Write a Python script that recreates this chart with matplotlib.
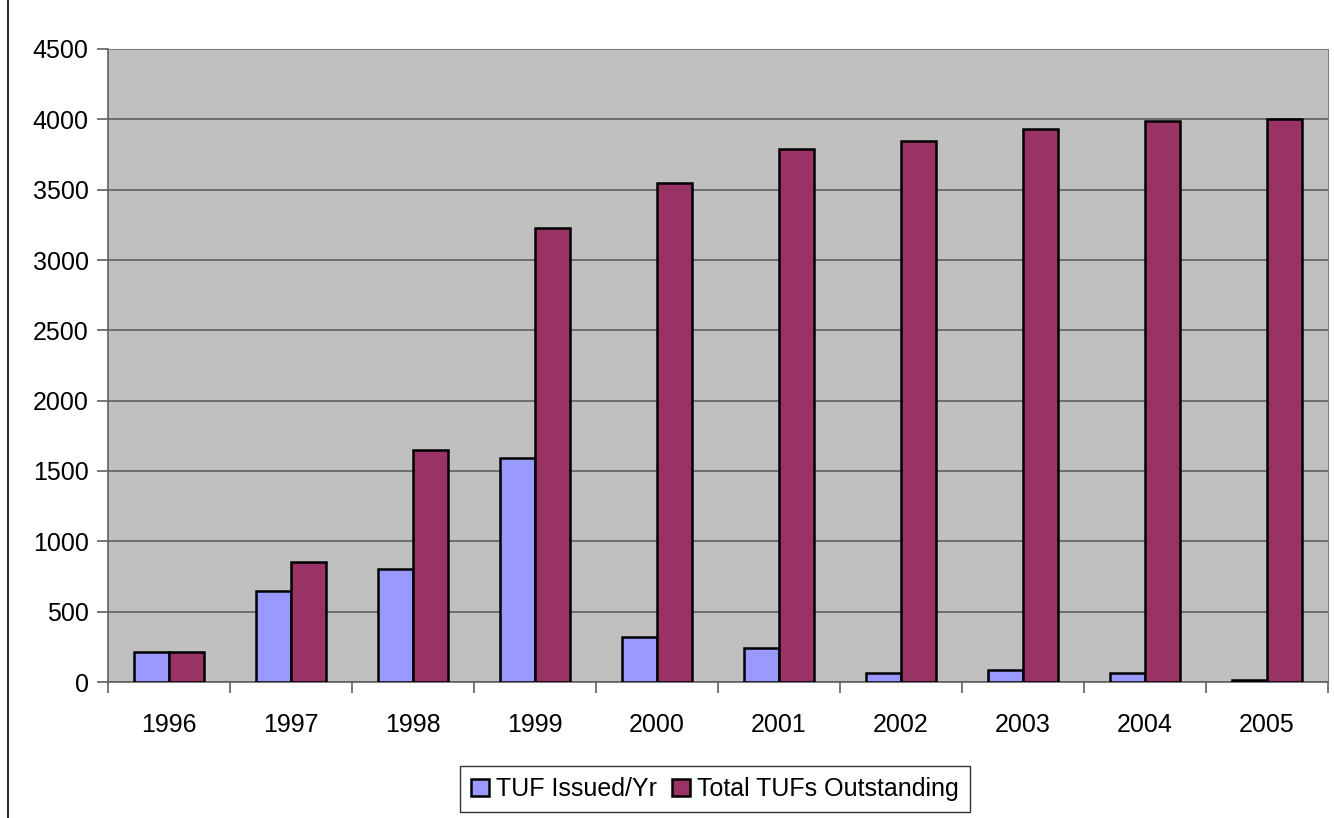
import numpy as np
import matplotlib.pyplot as plt
from matplotlib.patches import Rectangle

# Data
years = ['1996', '1997', '1998', '1999', '2000', '2001', '2002', '2003', '2004', '2005']
issued = [214, 645, 800, 1595, 320, 245, 62, 88, 62, 15]
total = [214, 855, 1650, 3230, 3545, 3790, 3846, 3934, 3990, 4005]

plt.rcParams['font.family'] = ['Liberation Sans', 'DejaVu Sans']

fig = plt.figure(figsize=(13.34, 8.18), dpi=100)
ax = fig.add_axes([108 / 1334, 1 - 682 / 818, 1220 / 1334, 633 / 818])

# outer chart frame (only left edge visible in the picture)
fig.patches.append(Rectangle((8 / 1334, -0.1), 1.2, 1.2, transform=fig.transFigure,
                             fill=False, edgecolor='black', linewidth=1.2))

x = np.arange(len(years))
w = 1 / 3.5
ax.bar(x - w / 2, issued, w, color='#9999FF', edgecolor='black', linewidth=1.8,
       label='TUF Issued/Yr', zorder=3)
ax.bar(x + w / 2, total, w, color='#993366', edgecolor='black', linewidth=1.8,
       label='Total TUFs Outstanding', zorder=3)

ax.set_facecolor('#C0C0C0')
ax.set_xlim(-0.5, len(years) - 0.5)
ax.set_ylim(0, 4500)
ax.set_yticks(np.arange(0, 4501, 500))
ax.yaxis.grid(True, color='#606060', linewidth=1.2, zorder=0)
ax.set_axisbelow(True)

ax.set_xticks(x)
ax.set_xticklabels(years)
ax.set_xticks(np.arange(-0.5, len(years)), minor=True)
ax.tick_params(axis='x', which='major', length=0, labelsize=18, pad=22)
ax.tick_params(axis='x', which='minor', length=8, width=1.2, color='#606060')
ax.tick_params(axis='y', length=8, width=1.2, color='#606060', labelsize=18, pad=6)

for side in ['top', 'right']:
    ax.spines[side].set_color('#808080')
for side in ['left', 'bottom']:
    ax.spines[side].set_color('#606060')
    ax.spines[side].set_linewidth(1.2)

leg = fig.legend(loc='center', bbox_to_anchor=(715 / 1334, 1 - 789 / 818), ncol=2,
                 fontsize=18, frameon=True, fancybox=False, edgecolor='black',
                 handlelength=0.7, handleheight=0.7, handletextpad=0.3,
                 columnspacing=0.6, borderpad=0.45)
leg.get_frame().set_linewidth(1.0)

fig.savefig('out.png', dpi=100)
